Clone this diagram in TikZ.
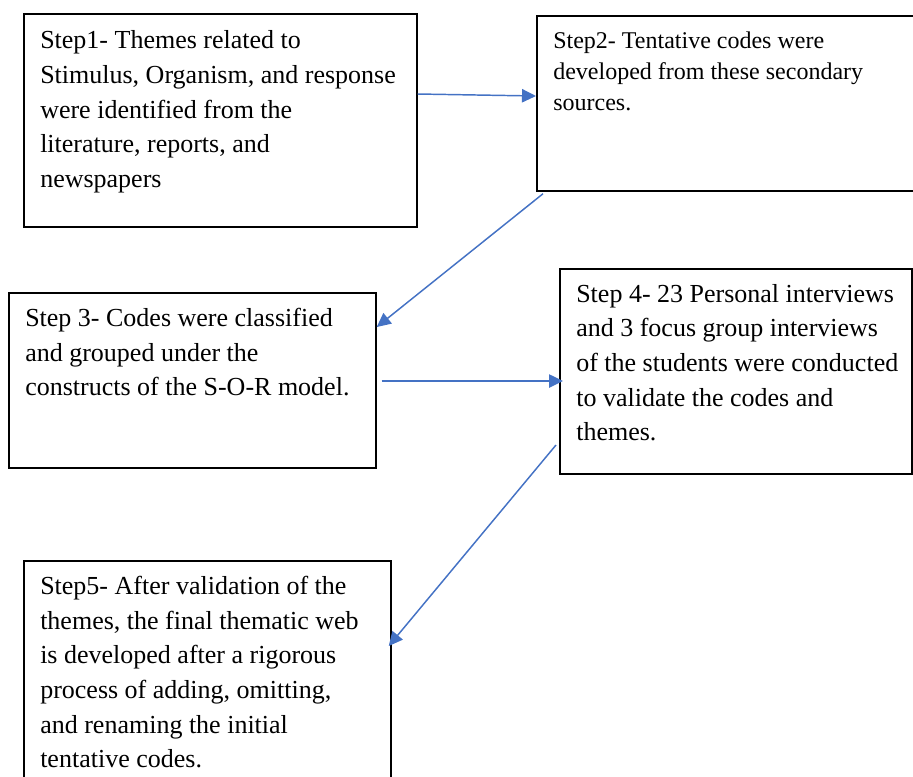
\documentclass[tikz,border=0pt]{standalone}
\usepackage{fontspec}
\setmainfont{Liberation Serif}
\usetikzlibrary{calc,positioning}
\usetikzlibrary{arrows.meta}
\definecolor{arrblue}{HTML}{4472C4}

\begin{document}
\begin{tikzpicture}[x=0.75pt, y=-0.75pt]
      \tikzstyle{sbox} = [draw=black, line width=1.3pt, rectangle, anchor=north west, inner sep=0pt]
      \tikzstyle{stxt} = [anchor=north west, align=left, inner sep=0pt, font=\fontsize{19.5}{26}\selectfont]
      \tikzstyle{sarr} = [draw=arrblue, line width=1.1pt, -{Triangle[length=10.5pt,width=10pt]}]

      \useasboundingbox (0,0) rectangle (913,776);

      % boxes
      \node[sbox, minimum width=294.75pt, minimum height=159.75pt] (s1) at (23,13) {};
      \node[sbox, minimum width=295.5pt, minimum height=131.25pt] (s2) at (536,15) {};
      \node[sbox, minimum width=275.25pt, minimum height=131.25pt] (s3) at (8,292) {};
      \node[sbox, minimum width=264pt, minimum height=153.75pt] (s4) at (559,268) {};
      \node[sbox, minimum width=275.25pt, minimum height=180pt] (s5) at (23,560) {};

      % texts
      \node[stxt] (t1) at ([shift={(17,17.5)}]s1.north west) {Step1- Themes related to\\
        Stimulus, Organism, and response\\ were identified from the\\
        literature, reports, and\\ newspapers};
      \node[stxt, font=\fontsize{18}{23.25}\selectfont] (t2) at ([shift={(17,17)}]s2.north west)
        {Step2- Tentative codes were\\ developed from these secondary\\ sources.};
      \node[stxt] (t3) at ([shift={(17,16)}]s3.north west) {Step 3- Codes were classified\\
        and grouped under the\\ constructs of the S-O-R model.};
      \node[stxt] (t4) at ([shift={(17,16)}]s4.north west) {Step 4- 23 Personal interviews\\
        and 3 focus group interviews\\ of the students were conducted\\
        to validate the codes and\\ themes.};
      \node[stxt] (t5) at ([shift={(17,16)}]s5.north west) {Step5- After validation of the\\
        themes, the final thematic web\\ is developed after a rigorous\\
        process of adding, omitting,\\ and renaming the initial\\ tentative codes.};

      % arrows
      \draw[sarr] ([shift={(0,81)}]s1.north east) -- ([shift={(0,81)}]s2.north west);
      \draw[sarr] ([shift={(7,2)}]s2.south west) -- ([shift={(0,35)}]s3.north east);
      \draw[sarr] ([shift={(5,89)}]s3.north east) -- ([shift={(4,113)}]s4.north west);
      \draw[sarr] ([shift={(-3,177)}]s4.north west) -- ([shift={(-3,86)}]s5.north east);
    \end{tikzpicture}
\end{document}
